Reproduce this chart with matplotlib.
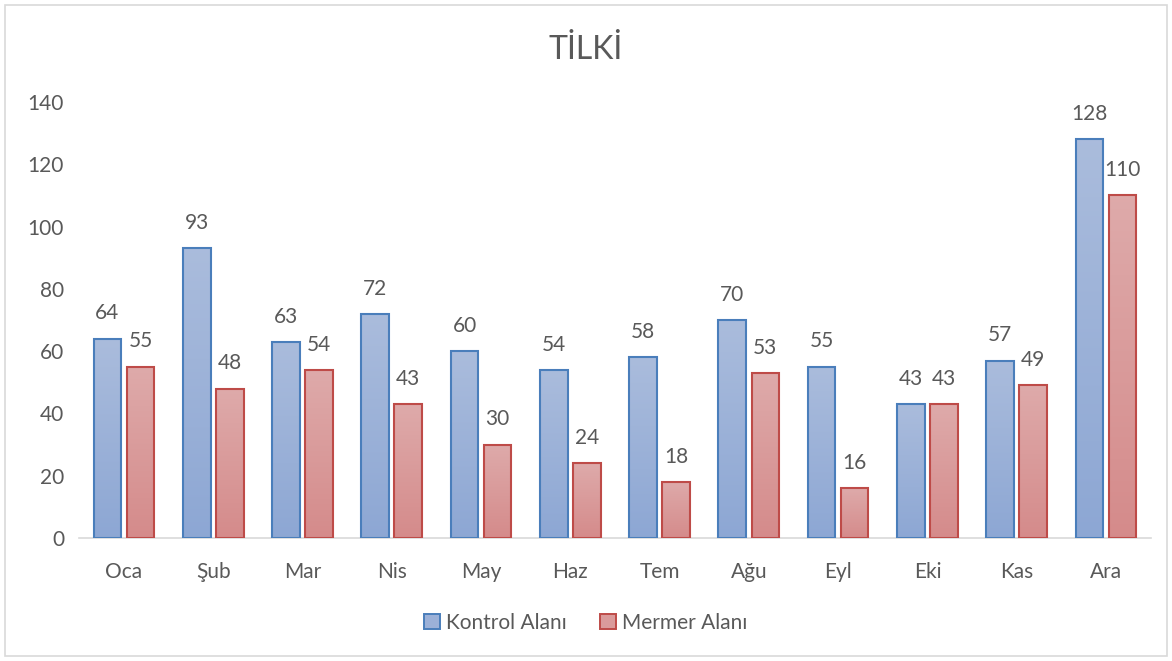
import numpy as np
import matplotlib.pyplot as plt
from matplotlib.patches import Rectangle, Patch

plt.rcParams['font.family'] = ['Lato', 'DejaVu Sans']

# monthly counts
months = ["Oca", "Şub", "Mar", "Nis", "May", "Haz", "Tem", "Ağu", "Eyl", "Eki", "Kas", "Ara"]
kontrol = [64, 93, 63, 72, 60, 54, 58, 70, 55, 43, 57, 128]
mermer = [55, 48, 54, 43, 30, 24, 18, 53, 16, 43, 49, 110]
series_names = ["Kontrol Alanı", "Mermer Alanı"]

TEXT = "#595959"
BAR_W = 0.31
OFFSET = 0.185

# (top colour, bottom colour, edge colour)
styles = [
    ((0.667, 0.737, 0.863), (0.553, 0.655, 0.831), "#4A7EBB"),
    ((0.871, 0.667, 0.667), (0.835, 0.545, 0.545), "#BE4B48"),
]

fig = plt.figure(figsize=(11.72, 6.61), dpi=100)
fig.patches.append(Rectangle((0.004, 0.008), 0.992, 0.984, transform=fig.transFigure,
                             fill=False, edgecolor="#D9D9D9", linewidth=1.2))
ax = fig.add_axes([0.0677, 0.186, 0.914, 0.6596])

x = np.arange(len(months))


def gradient_bars(xs, values, top, bottom, edge):
    t = np.linspace(0, 1, 64)[:, None, None]
    grad = np.array(bottom)[None, None, :] * (1 - t) + np.array(top)[None, None, :] * t
    for xc, v in zip(xs, values):
        x0, x1 = xc - BAR_W / 2, xc + BAR_W / 2
        ax.imshow(grad, extent=[x0, x1, 0, v], origin="lower", aspect="auto",
                  interpolation="bilinear", zorder=2)
        ax.add_patch(Rectangle((x0, 0), BAR_W, v, fill=False, edgecolor=edge,
                               linewidth=1.5, zorder=3))
        ax.annotate(str(v), (xc, v), xytext=(0, 11), textcoords="offset points",
                    ha="center", va="bottom", fontsize=15, color=TEXT)


for vals, shift, (top, bottom, edge) in zip([kontrol, mermer], [-OFFSET, OFFSET], styles):
    gradient_bars(x + shift, vals, top, bottom, edge)

ax.set_xlim(-0.5, len(months) - 0.5)
ax.set_ylim(0, 140)
ax.set_yticks(range(0, 141, 20))
ax.set_xticks(x)
ax.set_xticklabels(months)
ax.tick_params(axis="both", length=0, labelsize=15, colors=TEXT)
ax.tick_params(axis="x", pad=17)
ax.tick_params(axis="y", pad=11)
for side in ["top", "right", "left"]:
    ax.spines[side].set_visible(False)
ax.spines["bottom"].set_color("#D9D9D9")
ax.spines["bottom"].set_linewidth(1.2)

fig.text(0.5, 0.925, "TİLKİ", ha="center", va="center", fontsize=23, color=TEXT)

handles = [Patch(facecolor=tuple((np.array(s[0]) + np.array(s[1])) / 2), edgecolor=s[2],
                 linewidth=1.4) for s in styles]
fig.legend(handles, series_names, loc="center", bbox_to_anchor=(0.5, 0.058), ncol=2,
           frameon=False, fontsize=15, labelcolor=TEXT, handlelength=0.75, handleheight=0.75,
           handletextpad=0.3, columnspacing=1.6)

fig.savefig("out.png", dpi=100)
